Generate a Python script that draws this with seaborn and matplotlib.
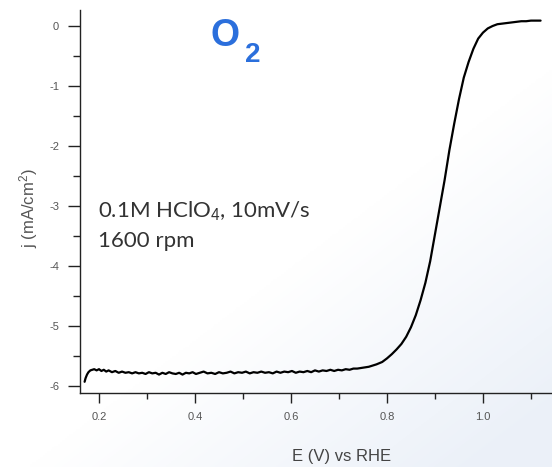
import numpy as np
import matplotlib
matplotlib.use("Agg")
import matplotlib.pyplot as plt
import seaborn as sns
import pandas as pd

# ---- data ----
E_plateau = [0.170, 0.172, 0.175, 0.178, 0.182, 0.186, 0.190, 0.195, 0.200, 0.205,
             0.210, 0.215, 0.220, 0.227, 0.234, 0.241, 0.248, 0.255, 0.262, 0.269,
             0.276, 0.283, 0.290, 0.297, 0.304, 0.311, 0.318, 0.325, 0.332, 0.339,
             0.346, 0.353, 0.360, 0.367, 0.374, 0.381, 0.388, 0.395, 0.402, 0.410,
             0.418, 0.426, 0.434, 0.442, 0.450, 0.458, 0.466, 0.474, 0.482, 0.490,
             0.498, 0.506, 0.514, 0.522, 0.530, 0.538, 0.546, 0.554, 0.562, 0.570,
             0.578, 0.586, 0.594, 0.602, 0.610, 0.618, 0.626, 0.634, 0.642, 0.650,
             0.658, 0.666, 0.674, 0.682, 0.690, 0.698, 0.706, 0.714, 0.722, 0.730,
             0.738, 0.746, 0.754, 0.762, 0.770, 0.778]
j_plateau = [-5.93, -5.87, -5.81, -5.77, -5.74, -5.73, -5.72, -5.74, -5.72, -5.75,
             -5.73, -5.76, -5.74, -5.77, -5.75, -5.78, -5.76, -5.78, -5.77, -5.79,
             -5.77, -5.79, -5.78, -5.80, -5.77, -5.79, -5.78, -5.81, -5.78, -5.80,
             -5.77, -5.79, -5.80, -5.78, -5.81, -5.78, -5.79, -5.77, -5.80, -5.78,
             -5.76, -5.79, -5.78, -5.80, -5.77, -5.79, -5.78, -5.76, -5.79, -5.77,
             -5.78, -5.76, -5.79, -5.77, -5.78, -5.76, -5.78, -5.77, -5.79, -5.76,
             -5.78, -5.76, -5.77, -5.75, -5.78, -5.76, -5.77, -5.75, -5.77, -5.74,
             -5.76, -5.74, -5.75, -5.73, -5.75, -5.73, -5.74, -5.72, -5.73, -5.71,
             -5.71, -5.70, -5.69, -5.68, -5.66, -5.64]
E_wave = [0.79, 0.80, 0.81, 0.82, 0.83, 0.84, 0.85, 0.86, 0.87, 0.88, 0.89, 0.90,
          0.91, 0.92, 0.93, 0.94, 0.95, 0.96, 0.97, 0.98, 0.99, 1.00, 1.01, 1.02,
          1.03, 1.04, 1.05, 1.06, 1.07, 1.08, 1.09, 1.10, 1.11, 1.12]
j_wave = [-5.60, -5.54, -5.47, -5.39, -5.30, -5.18, -5.02, -4.82, -4.57, -4.28,
          -3.92, -3.47, -3.02, -2.57, -2.07, -1.63, -1.22, -0.86, -0.60, -0.38,
          -0.21, -0.11, -0.04, 0.00, 0.03, 0.04, 0.05, 0.06, 0.07, 0.08, 0.08,
          0.09, 0.09, 0.09]

x_ticks = [0.2, 0.4, 0.6, 0.8, 1.0]
x_tick_labels = ["0.2", "0.4", "0.6", "0.8", "1.0"]
y_ticks = [0, -1, -2, -3, -4, -5, -6]
y_tick_labels = ["0", "-1", "-2", "-3", "-4", "-5", "-6"]

x_label = "E (V) vs RHE"
y_label = "j (mA/cm$^2$)"
title_main = "O"
title_sub = "2"
note_line1 = "0.1M HClO$_4$, 10mV/s"
note_line2 = "1600 rpm"

df = pd.DataFrame({"E": E_plateau + E_wave, "j": j_plateau + j_wave})

# ---- style ----
sns.set_theme(style="ticks")
plt.rcParams["font.family"] = ["Liberation Sans", "DejaVu Sans"]
plt.rcParams["axes.unicode_minus"] = False
plt.rcParams["mathtext.fontset"] = "custom"
plt.rcParams["mathtext.rm"] = "Liberation Sans"
plt.rcParams["mathtext.it"] = "Liberation Sans"

fig = plt.figure(figsize=(5.52, 4.67), dpi=100)
fig.patch.set_facecolor("white")

# subtle bluish gradient background toward bottom-right
bg = fig.add_axes([0, 0, 1, 1], zorder=-10)
gx, gy = np.meshgrid(np.linspace(0, 1, 300), np.linspace(1, 0, 250))
t = np.clip((gx * 0.9 + (1 - gy) * 1.0 - 1.05) / 0.7, 0, 1)
c0 = np.array([1.0, 1.0, 1.0])
c1 = np.array([0.925, 0.945, 0.975])
img = c0[None, None, :] * (1 - t[..., None]) + c1[None, None, :] * t[..., None]
bg.imshow(img, extent=[0, 1, 0, 1], aspect="auto", origin="upper")
bg.set_axis_off()

ax = fig.add_axes([80 / 552, 74 / 467, 472 / 552, 383 / 467])
ax.set_facecolor("none")

sns.lineplot(data=df, x="E", y="j", ax=ax, sort=False, estimator=None,
             color="black", linewidth=1.6)

ax.set_xlim(0.1604, 1.1438)
ax.set_ylim(-6.117, 0.267)

ax.set_xticks(x_ticks)
ax.set_xticklabels(x_tick_labels)
ax.set_yticks(y_ticks)
ax.set_yticklabels(y_tick_labels)
ax.set_xticks([0.3, 0.5, 0.7, 0.9, 1.1], minor=True)
ax.set_yticks([-0.5, -1.5, -2.5, -3.5, -4.5, -5.5], minor=True)

for s in ["top", "right"]:
    ax.spines[s].set_visible(False)
for s in ["left", "bottom"]:
    ax.spines[s].set_color("#222222")
    ax.spines[s].set_linewidth(1.0)

ax.tick_params(axis="both", which="major", direction="out", length=7,
               width=1.0, color="#222222", labelsize=8, labelcolor="#555555")
ax.tick_params(axis="both", which="minor", direction="out", length=4,
               width=1.0, color="#222222")
ax.tick_params(axis="y", which="major", length=9, pad=6)
ax.tick_params(axis="y", which="minor", length=5)
ax.tick_params(axis="x", which="major", pad=7)

ax.set_xlabel(x_label, fontsize=12, color="#444444")
ax.set_ylabel(y_label, fontsize=12, color="#555555")
ax.xaxis.set_label_coords((342 - 80) / 472, (393 - 449) / 383)
ax.yaxis.set_label_coords((40 - 80) / 472, (393 - 208) / 383)

# annotation
fig.text(98 / 552, (467 - 217) / 467, note_line1, fontsize=16,
         color="#333333", family=["Lato", "DejaVu Sans"], va="baseline")
fig.text(98 / 552, (467 - 247) / 467, note_line2, fontsize=16,
         color="#333333", family=["Lato", "DejaVu Sans"], va="baseline")

# O2 title
blue = "#2b6fdc"
fig.text(211 / 552, (467 - 46) / 467, title_main, fontsize=27, fontweight="bold",
         color=blue, va="baseline")
fig.text(245 / 552, (467 - 62) / 467, title_sub, fontsize=20, fontweight="bold",
         color=blue, va="baseline")

fig.savefig("out.png", dpi=100)
